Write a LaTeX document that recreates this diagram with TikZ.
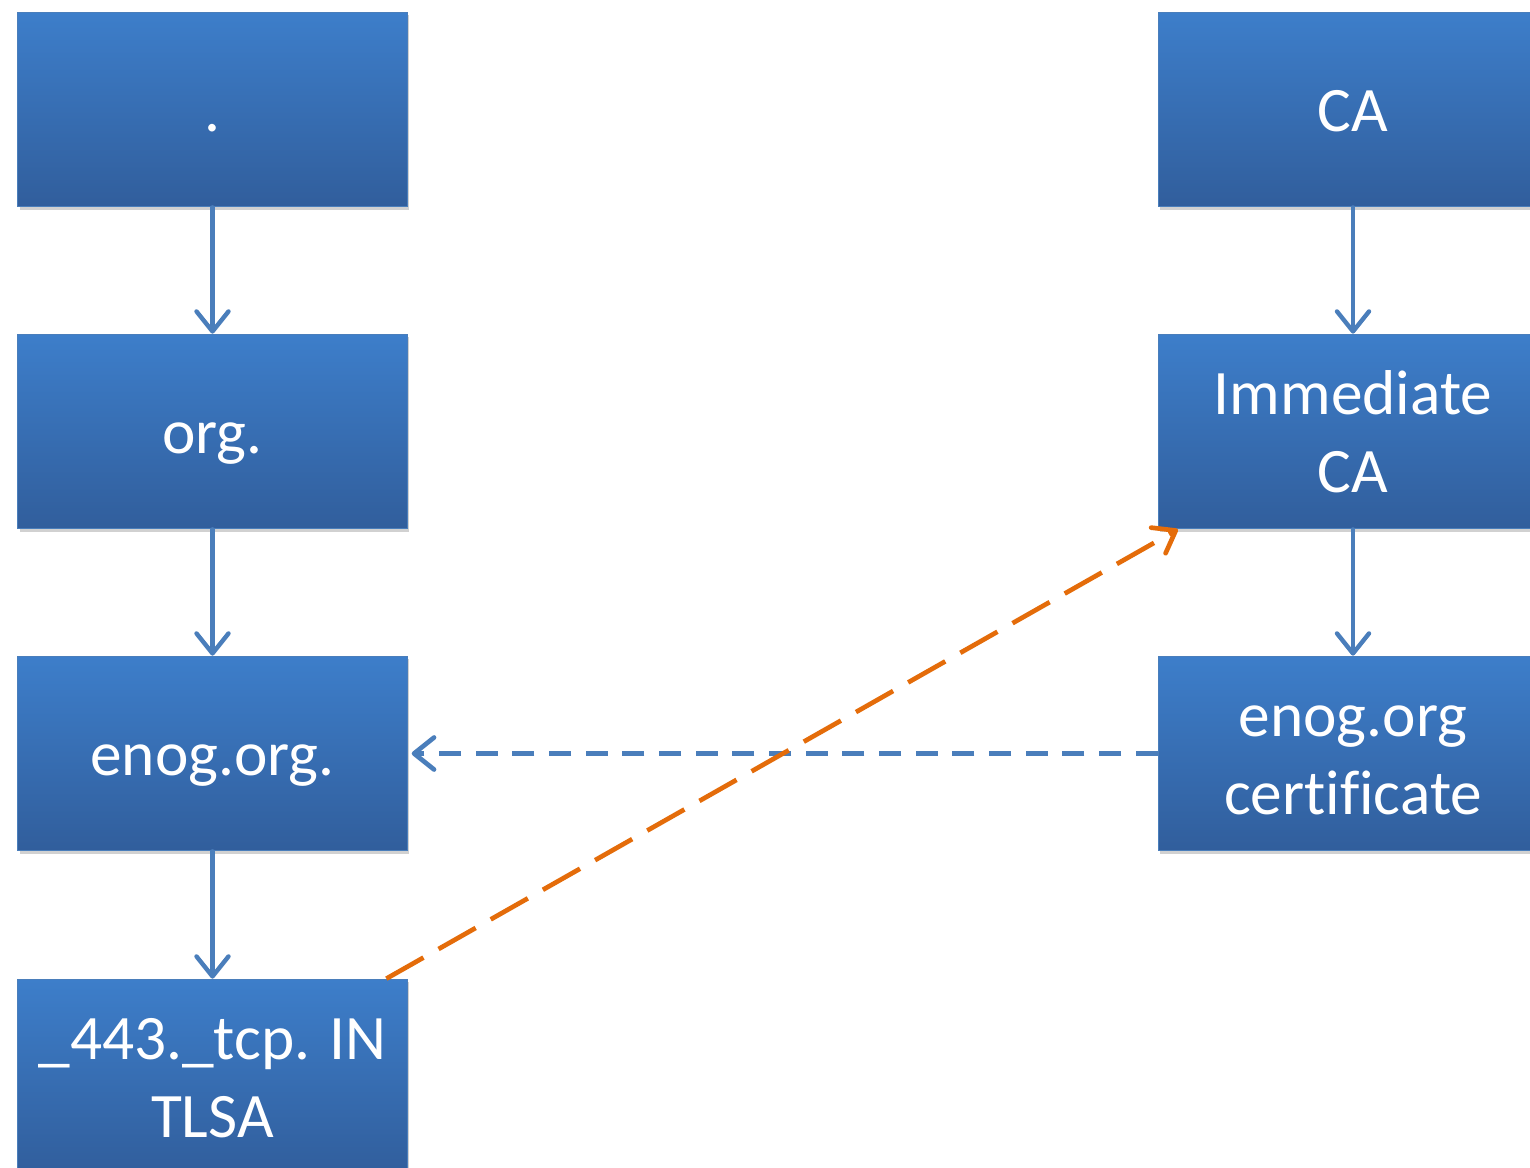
\documentclass[tikz,border=0pt]{standalone}
\usepackage{fontspec}
\setmainfont{Carlito}[Ligatures={NoCommon}]
\usetikzlibrary{arrows.meta,shadows}
\definecolor{boxtop}{HTML}{3D7ECA}
\definecolor{boxbot}{HTML}{315E9C}
\definecolor{boxedge}{HTML}{4A7EBB}
\definecolor{linkblue}{HTML}{4A7EBB}
\definecolor{linkorange}{HTML}{E46C0A}
\tikzset{
  dnsbox/.style={rectangle, minimum width=292pt, minimum height=146pt, inner sep=0pt,
    top color=boxtop, bottom color=boxbot, draw=boxedge, line width=0.8pt,
    text=white, align=center, font=\fontsize{47.5}{58}\selectfont,
    text height=33pt, text depth=0pt,
    drop shadow={shadow xshift=1.5pt, shadow yshift=-2pt, opacity=0.18, fill=black}},
  twoline/.style={text height=91pt, text depth=0pt},
  chain/.style={draw=linkblue, line width=3.3pt, line cap=round,
    -{Straight Barb[length=15pt, width=24pt, line width=3.3pt, round]}},
  usebox/.style={draw=linkblue, line width=3.5pt, dash pattern=on 16.5pt off 11pt,
    -{Straight Barb[length=15pt, width=24pt, line width=3.5pt, round]}},
  pinlink/.style={draw=linkorange, line width=3.5pt, dash pattern=on 32pt off 13pt,
    -{Straight Barb[length=15pt, width=22pt, line width=3.5pt, round]}}
}
\begin{document}
\begin{tikzpicture}[x=0.75pt,y=-0.75pt]
\useasboundingbox (0,0) rectangle (1530,1167);
\fill[white] (0,0) rectangle (1530,1167);
\node[dnsbox] (root) at (212.5,109.5) {.};
\node[dnsbox] (org) at (212.5,431.5) {org.};
\node[dnsbox] (enog) at (212.5,753.5) {enog.org.};
\node[dnsbox, twoline] (tlsa) at (212.5,1076.5) {\_443.\_tcp. IN\\TLSA};
\node[dnsbox] (ca) at (1353,109.5) {CA};
\node[dnsbox, twoline] (ica) at (1353,431.5) {Immediate\\CA};
\node[dnsbox, twoline] (cert) at (1353,753.5) {enog.org\\certificate};
\draw[chain] (root.south) -- (org.north);
\draw[chain] (org.south) -- (enog.north);
\draw[chain] (enog.south) -- (tlsa.north);
\draw[chain] (ca.south) -- (ica.north);
\draw[chain] (ica.south) -- (cert.north);
\draw[usebox] (cert.west) -- ([xshift=3pt]enog.east);
\draw[pinlink] ([xshift=-16pt]tlsa.north east) -- ([xshift=15pt]ica.south west);
\end{tikzpicture}
\end{document}
